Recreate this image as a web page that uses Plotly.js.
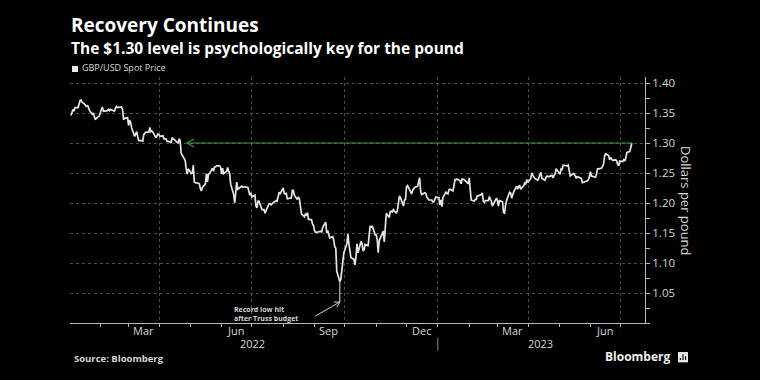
<!DOCTYPE html>
<html>
<head>
<meta charset="utf-8">
<script src="https://cdn.plot.ly/plotly-3.0.1.min.js"></script>
<style>
html,body{margin:0;padding:0;background:#000;}
#chart{width:760px;height:380px;}
</style>
</head>
<body>
<div id="chart"></div>
<script>
// ---- Data: GBP/USD daily closes, one array per month (weekdays in order) ----
const close_2022_01 = [1.3460,1.3530,1.3560,1.3530,1.3590,1.3590,1.3640,1.3710,1.3715,1.3680,1.3640,1.3610,1.3620,1.3610,1.3550,1.3480,1.3500,1.3460,1.3390,1.3410,1.3450];
const close_2022_02 = [1.3510,1.3570,1.3600,1.3530,1.3530,1.3540,1.3560,1.3540,1.3560,1.3530,1.3530,1.3580,1.3610,1.3590,1.3590,1.3600,1.3560,1.3390,1.3410,1.3420];
const close_2022_03 = [1.3290,1.3380,1.3340,1.3250,1.3110,1.3170,1.3190,1.3110,1.3040,1.3040,1.3030,1.3140,1.3170,1.3180,1.3180,1.3260,1.3190,1.3200,1.3180,1.3090,1.3120,1.3150,1.3140];
const close_2022_04 = [1.3110,1.3120,1.3070,1.3070,1.3070,1.3030,1.3020,1.3000,1.3090,1.3070,1.3060,1.3010,1.3000,1.3070,1.3040,1.2830,1.2730,1.2710,1.2570,1.2480,1.2570];
const close_2022_05 = [1.2490,1.2500,1.2630,1.2350,1.2340,1.2330,1.2320,1.2240,1.2200,1.2260,1.2320,1.2490,1.2350,1.2480,1.2490,1.2580,1.2530,1.2600,1.2600,1.2620,1.2620,1.2600];
const close_2022_06 = [1.2480,1.2580,1.2490,1.2530,1.2590,1.2530,1.2490,1.2310,1.2140,1.2000,1.2180,1.2350,1.2230,1.2260,1.2280,1.2260,1.2270,1.2270,1.2260,1.2180,1.2130,1.2170];
const close_2022_07 = [1.2100,1.2130,1.1950,1.1920,1.2030,1.2030,1.1890,1.1890,1.1890,1.1830,1.1870,1.1990,1.1990,1.1970,1.1990,1.2000,1.2040,1.2030,1.2140,1.2180,1.2160];
const close_2022_08 = [1.2250,1.2160,1.2150,1.2160,1.2070,1.2080,1.2080,1.2210,1.2210,1.2130,1.2060,1.2100,1.2070,1.1950,1.1820,1.1770,1.1820,1.1800,1.1840,1.1730,1.1720,1.1650,1.1620];
const close_2022_09 = [1.1540,1.1510,1.1520,1.1520,1.1530,1.1510,1.1590,1.1680,1.1500,1.1540,1.1470,1.1420,1.1440,1.1380,1.1270,1.1250,1.0860,1.0690,1.0730,1.0890,1.1110,1.1170];
const close_2022_10 = [1.1320,1.1480,1.1320,1.1160,1.1090,1.1060,1.0970,1.1100,1.1320,1.1170,1.1360,1.1320,1.1200,1.1220,1.1310,1.1290,1.1480,1.1620,1.1590,1.1620,1.1470];
const close_2022_11 = [1.1470,1.1390,1.1170,1.1370,1.1510,1.1530,1.1350,1.1710,1.1830,1.1760,1.1860,1.1860,1.1850,1.1890,1.1830,1.1880,1.2020,1.2120,1.2090,1.1950,1.2050,1.2060];
const close_2022_12 = [1.2270,1.2290,1.2190,1.2150,1.2210,1.2240,1.2260,1.2280,1.2370,1.2420,1.2190,1.2140,1.2170,1.2160,1.2100,1.2060,1.2050,1.2050,1.2020,1.2020,1.2050,1.2100];
const close_2023_01 = [1.2090,1.1970,1.2050,1.1940,1.2090,1.2180,1.2160,1.2150,1.2220,1.2230,1.2200,1.2280,1.2390,1.2390,1.2400,1.2370,1.2320,1.2400,1.2400,1.2390,1.2340,1.2320];
const close_2023_02 = [1.2420,1.2230,1.2050,1.2030,1.2060,1.2060,1.2120,1.2120,1.2140,1.2170,1.2030,1.2010,1.2040,1.2040,1.2110,1.2060,1.2030,1.1950,1.2060,1.2080];
const close_2023_03 = [1.2040,1.1950,1.2040,1.2020,1.1840,1.1830,1.1960,1.2040,1.2180,1.2170,1.2080,1.2160,1.2180,1.2280,1.2230,1.2280,1.2290,1.2230,1.2290,1.2330,1.2310,1.2390,1.2340];
const close_2023_04 = [1.2410,1.2500,1.2460,1.2420,1.2410,1.2380,1.2420,1.2470,1.2510,1.2410,1.2380,1.2430,1.2450,1.2440,1.2440,1.2460,1.2420,1.2460,1.2480,1.2570];
const close_2023_05 = [1.2500,1.2480,1.2570,1.2560,1.2630,1.2620,1.2620,1.2630,1.2490,1.2450,1.2490,1.2480,1.2450,1.2410,1.2440,1.2420,1.2410,1.2340,1.2340,1.2350,1.2370,1.2390,1.2440];
const close_2023_06 = [1.2520,1.2450,1.2430,1.2430,1.2480,1.2570,1.2570,1.2580,1.2610,1.2650,1.2780,1.2820,1.2790,1.2720,1.2760,1.2740,1.2710,1.2720,1.2700,1.2640,1.2620,1.2700];
const close_2023_07 = [1.2690,1.2720,1.2700,1.2750,1.2840,1.2860,1.2930,1.3000];

const monthSeries = [
  ['2022-01', close_2022_01], ['2022-02', close_2022_02], ['2022-03', close_2022_03],
  ['2022-04', close_2022_04], ['2022-05', close_2022_05], ['2022-06', close_2022_06],
  ['2022-07', close_2022_07], ['2022-08', close_2022_08], ['2022-09', close_2022_09],
  ['2022-10', close_2022_10], ['2022-11', close_2022_11], ['2022-12', close_2022_12],
  ['2023-01', close_2023_01], ['2023-02', close_2023_02], ['2023-03', close_2023_03],
  ['2023-04', close_2023_04], ['2023-05', close_2023_05], ['2023-06', close_2023_06],
  ['2023-07', close_2023_07]
];

const recordLowDate = '2022-09-26';
const recordLow = 1.0350;
const keyLevel = 1.30;
const keyLevelFromDate = '2022-04-28';

const yTickVals = [1.05,1.10,1.15,1.20,1.25,1.30,1.35,1.40];
const yTickText = ['1.05','1.10','1.15','1.20','1.25','1.30','1.35','1.40'];
const quarterStarts = ['2022-04-01','2022-07-01','2022-10-01','2023-01-01','2023-04-01','2023-07-01'];
const monthStarts = ['2022-02-01','2022-03-01','2022-04-01','2022-05-01','2022-06-01','2022-07-01','2022-08-01','2022-09-01','2022-10-01','2022-11-01','2022-12-01','2023-01-01','2023-02-01','2023-03-01','2023-04-01','2023-05-01','2023-06-01','2023-07-01'];
const monthLabels = ['Mar','Jun','Sep','Dec','Mar','Jun'];
const monthLabelDates = ['2022-03-16','2022-06-15','2022-09-15','2022-12-16','2023-03-16','2023-06-15'];
const yearLabels = ['2022','2023'];
const yearLabelDates = ['2022-07-02','2023-04-13'];
const yearBoundary = '2023-01-01';

// ---- Build date / value vectors ----
function weekdays(ym, n) {
  const [y, m] = ym.split('-').map(Number);
  const out = [];
  for (let d = 1; d <= 31 && out.length < n; d++) {
    const dt = new Date(Date.UTC(y, m - 1, d));
    if (dt.getUTCMonth() !== m - 1) break;
    const wd = dt.getUTCDay();
    if (wd === 0 || wd === 6) continue;
    out.push(dt.toISOString().slice(0, 10));
  }
  return out;
}
const dates = [], closes = [];
monthSeries.forEach(([ym, vals]) => {
  const ds = weekdays(ym, vals.length);
  vals.forEach((v, i) => { dates.push(ds[i]); closes.push(v); });
});
const lastDate = dates[dates.length - 1];
const recordLowClose = closes[dates.indexOf(recordLowDate)];

const axisGray = '#b8b8b8';
const textGray = '#d6d6d6';
const gridGray = '#4d4d4d';
const fontFam = '"Open Sans", "Noto Sans", sans-serif';

const traces = [
  {
    type: 'scatter', mode: 'lines', x: dates, y: closes,
    line: { color: '#e4e4e4', width: 1.7 }, hoverinfo: 'skip', showlegend: false
  },
  {
    type: 'scatter', mode: 'lines', x: [recordLowDate, recordLowDate], y: [recordLowClose, recordLow],
    line: { color: '#e4e4e4', width: 1 }, hoverinfo: 'skip', showlegend: false
  }
];

const annotations = [];
// Titles
annotations.push({ xref: 'paper', yref: 'paper', x: 0, y: 1.2134, xanchor: 'left', yanchor: 'middle', borderpad: 0,
  text: '<b>Recovery Continues</b>', showarrow: false, font: { family: fontFam, size: 19, color: '#ffffff' } });
annotations.push({ xref: 'paper', yref: 'paper', x: 0, y: 1.1199, xanchor: 'left', yanchor: 'middle', borderpad: 0,
  text: '<b>The $1.30 level is psychologically key for the pound</b>', showarrow: false, font: { family: fontFam, size: 15.5, color: '#ffffff' } });
annotations.push({ xref: 'paper', yref: 'paper', x: 0.0174, y: 1.0366, xanchor: 'left', yanchor: 'middle',
  text: 'GBP/USD Spot Price', showarrow: false, font: { family: fontFam, size: 9, color: textGray } });
// Axis title
annotations.push({ xref: 'paper', yref: 'paper', x: 1.0713, y: 0.496, xanchor: 'center', yanchor: 'middle',
  text: 'Dollars per pound', textangle: 90, showarrow: false, font: { family: fontFam, size: 13, color: textGray } });
// Month labels
monthLabels.forEach((t, i) => annotations.push({ xref: 'x', yref: 'paper', x: monthLabelDates[i], y: -0.0325,
  xanchor: 'center', yanchor: 'middle', text: t, showarrow: false, font: { family: fontFam, size: 11, color: textGray } }));
yearLabels.forEach((t, i) => annotations.push({ xref: 'x', yref: 'paper', x: yearLabelDates[i], y: -0.085,
  xanchor: 'center', yanchor: 'middle', text: t, showarrow: false, font: { family: fontFam, size: 11, color: textGray } }));
// Record low note
annotations.push({ xref: 'paper', yref: 'paper', x: 0.2817, y: 0.0366, xanchor: 'left', yanchor: 'middle', align: 'left',
  text: '<b>Record low hit<br>after Truss budget</b>', showarrow: false, font: { family: fontFam, size: 7, color: textGray } });
annotations.push({ xref: 'x', yref: 'y', x: recordLowDate, y: recordLow, ax: -26, ay: 15, text: '',
  showarrow: true, arrowhead: 0, arrowwidth: 1, arrowcolor: '#cfcfcf', standoff: 0 });
// Footer
annotations.push({ xref: 'paper', yref: 'paper', x: 0.0035, y: -0.1423, xanchor: 'left', yanchor: 'middle',
  text: '<b>Source: Bloomberg</b>', showarrow: false, font: { family: fontFam, size: 9.5, color: textGray } });
annotations.push({ xref: 'paper', yref: 'paper', x: 1.0487, y: -0.138, xanchor: 'right', yanchor: 'middle',
  text: '<b>Bloomberg</b>', showarrow: false, font: { family: fontFam, size: 12, color: '#f0f0f0' } });

const shapes = [
  // legend swatch
  { type: 'rect', xref: 'paper', yref: 'paper', x0: 0.0035, x1: 0.0139, y0: 1.0203, y1: 1.045,
    fillcolor: '#e8e8e8', line: { width: 0 } },
  // key level arrow
  { type: 'line', xref: 'x', yref: 'y', x0: keyLevelFromDate, x1: lastDate, y0: keyLevel, y1: keyLevel,
    line: { color: '#3c9a3c', width: 1.2 } },
  { type: 'path', xref: 'x', yref: 'y', xsizemode: 'pixel', ysizemode: 'pixel',
    xanchor: keyLevelFromDate, yanchor: keyLevel, path: 'M 7 4 L 0 0 L 7 -4',
    line: { color: '#3c9a3c', width: 1.2 } },
  // record-low arrowhead
  { type: 'path', xref: 'x', yref: 'y', xsizemode: 'pixel', ysizemode: 'pixel',
    xanchor: recordLowDate, yanchor: recordLow, path: 'M -6 0 L 0 0 L -3 -5.2',
    line: { color: '#cfcfcf', width: 1 } },
  // year boundary
  { type: 'line', xref: 'x', yref: 'paper', x0: yearBoundary, x1: yearBoundary, y0: -0.061, y1: -0.112,
    line: { color: '#8a8a8a', width: 1 } },
  // Bloomberg icon
  { type: 'rect', xref: 'paper', yref: 'paper', x0: 1.0574, x1: 1.0748, y0: -0.118, y1: -0.160,
    fillcolor: '#e8e8e8', line: { width: 0 } },
  { type: 'rect', xref: 'paper', yref: 'paper', x0: 1.0605, x1: 1.0625, y0: -0.142, y1: -0.150, fillcolor: '#000', line: { width: 0 } },
  { type: 'rect', xref: 'paper', yref: 'paper', x0: 1.0650, x1: 1.0670, y0: -0.127, y1: -0.150, fillcolor: '#000', line: { width: 0 } },
  { type: 'rect', xref: 'paper', yref: 'paper', x0: 1.0695, x1: 1.0715, y0: -0.135, y1: -0.150, fillcolor: '#000', line: { width: 0 } }
];

const layout = {
  width: 760, height: 380,
  margin: { l: 70, r: 115, t: 77, b: 57 },
  paper_bgcolor: '#000000', plot_bgcolor: '#000000',
  showlegend: false,
  font: { family: fontFam, color: textGray },
  xaxis: {
    type: 'date', range: ['2022-01-02', '2023-07-25'],
    tickmode: 'array', tickvals: quarterStarts, showticklabels: false,
    ticks: 'outside', ticklen: 3, tickcolor: axisGray, tickwidth: 1,
    showgrid: true, gridcolor: gridGray, griddash: 'dot', gridwidth: 1,
    minor: { tickmode: 'array', tickvals: monthStarts, ticks: 'outside', ticklen: 3, tickcolor: axisGray, tickwidth: 1, showgrid: false },
    showline: true, linecolor: axisGray, linewidth: 1, zeroline: false, fixedrange: true
  },
  yaxis: {
    side: 'right', range: [1.00, 1.41],
    tickmode: 'array', tickvals: yTickVals, ticktext: yTickText,
    ticks: 'outside', ticklen: 4, tickcolor: axisGray, tickwidth: 1,
    minor: { tickmode: 'linear', tick0: 1.0, dtick: 0.025, ticks: 'outside', ticklen: 4, tickcolor: axisGray, showgrid: false },
    tickfont: { family: fontFam, size: 11.5, color: textGray },
    showgrid: true, gridcolor: gridGray, griddash: 'dot', gridwidth: 1,
    showline: true, linecolor: axisGray, linewidth: 1, zeroline: false, fixedrange: true
  },
  annotations: annotations,
  shapes: shapes
};

Plotly.newPlot('chart', traces, layout, { displayModeBar: false, staticPlot: true });
</script>
</body>
</html>
